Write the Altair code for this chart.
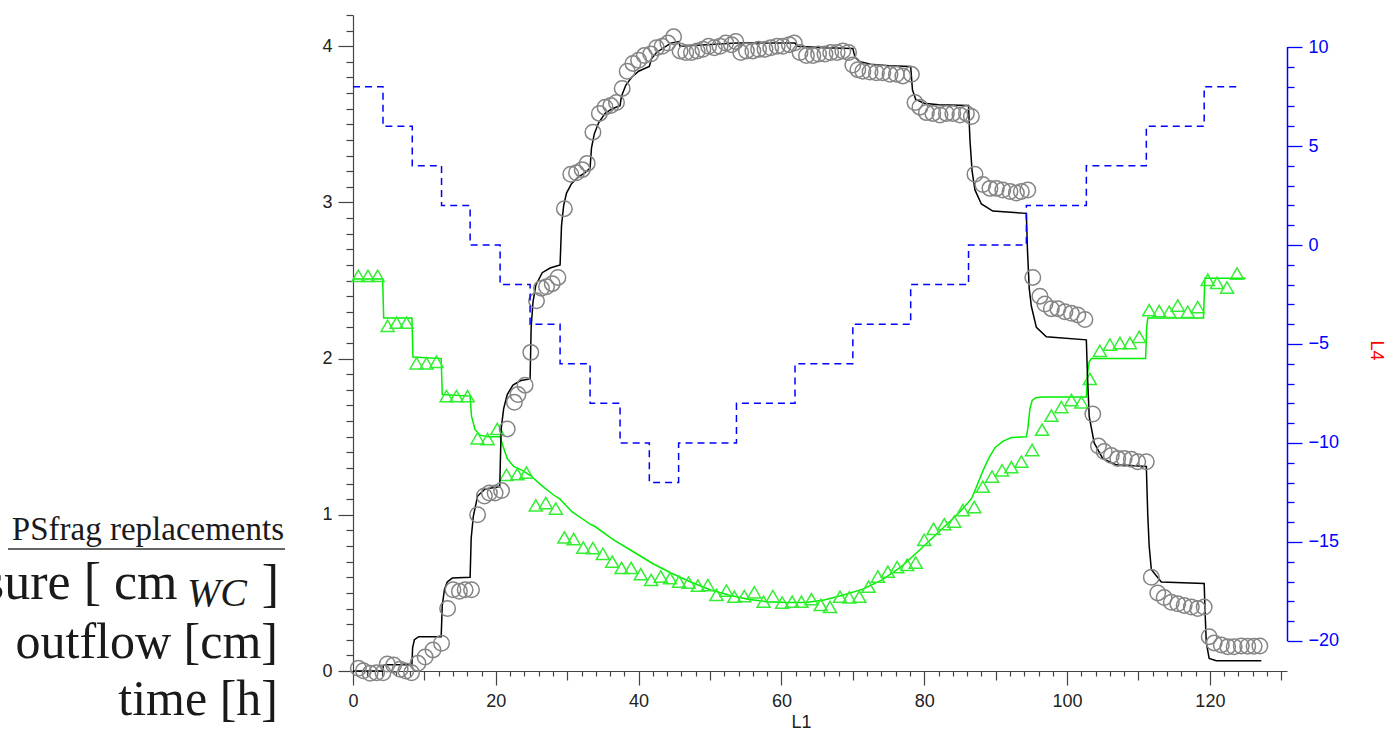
import altair as alt
import pandas as pd

# ---- measured pressure head [cm WC] (open circles) ----
p_time = [0.75, 1.45, 2.4, 3.3, 4.2, 4.8, 5.7, 6.6, 7.4, 8.2, 9.1, 10.1, 11.2, 12.4,
          13.25, 14.0, 14.9, 15.7, 16.6,
          17.45, 18.4, 19.1, 19.9, 20.8,
          21.6, 22.6, 23.1, 24.1,
          24.9, 25.7, 26.4, 27.1, 27.9, 28.7,
          29.6, 30.5, 31.3, 32.1, 32.8,
          33.6, 34.5, 35.3, 36.1, 36.9,
          37.7, 38.4, 39.2, 40.0, 40.8,
          41.7, 42.5, 43.3, 44.1, 44.9,
          45.8, 46.6, 47.4, 48.2, 49.0, 49.8, 50.6, 51.4, 52.2, 53.0, 53.6,
          54.3, 55.1, 56.0, 56.8, 57.7, 58.5, 59.4, 60.2, 61.1, 61.8,
          62.6, 63.5, 64.4, 65.2, 66.1, 66.9, 67.8, 68.6, 69.4,
          70.0, 70.7, 71.4, 72.4, 73.3, 74.2, 75.2, 76.1, 77.0, 78.2,
          78.7, 79.4, 80.3, 81.2, 82.2, 83.1, 84.0, 85.0, 85.9, 86.6,
          87.1, 88.2, 89.2, 90.1, 91.0, 92.0, 92.9, 93.6, 94.5,
          95.2, 96.2, 96.9, 97.8, 98.7, 99.7, 100.6, 101.5, 102.5,
          103.6, 104.4, 105.2, 106.2, 107.1, 108.0, 109.0, 109.9, 111.1,
          111.8, 112.7, 113.6, 114.6, 115.5, 116.4, 117.4, 118.3, 119.2,
          119.9, 120.6, 121.6, 122.5, 123.4, 124.4, 125.3, 126.2, 127.0]
p_meas = [0.017, 0.002, -0.015, -0.011, -0.011, 0.045, 0.038, 0.011, 0.0, -0.011, 0.049, 0.09, 0.135, 0.178,
          0.40, 0.52, 0.51, 0.52, 0.52,
          1.0, 1.12, 1.14, 1.14, 1.155,
          1.55, 1.72, 1.77, 1.83,
          2.04, 2.37, 2.45, 2.46, 2.48, 2.52,
          2.96, 3.18, 3.19, 3.21, 3.25,
          3.45, 3.57, 3.61, 3.62, 3.64,
          3.73, 3.84, 3.89, 3.91, 3.94,
          3.95, 3.99, 4.0, 4.02, 4.06,
          3.97, 3.96, 3.96, 3.97, 3.98, 4.0, 3.99, 4.0, 4.02, 4.01, 4.03,
          3.96, 3.97, 3.97, 3.98, 3.98, 3.99, 4.0, 4.0, 4.01, 4.02,
          3.96, 3.94, 3.94, 3.95, 3.95, 3.96, 3.96, 3.97, 3.96,
          3.88, 3.85, 3.84, 3.835, 3.83, 3.83, 3.82, 3.82, 3.81, 3.82,
          3.64, 3.61, 3.575, 3.57, 3.56, 3.57, 3.57, 3.56, 3.57, 3.55,
          3.18, 3.115, 3.09, 3.09, 3.08, 3.07, 3.06, 3.07, 3.08,
          2.52, 2.40, 2.35, 2.32, 2.32, 2.30, 2.29, 2.28, 2.25,
          1.645, 1.44, 1.405, 1.38, 1.36, 1.36, 1.355, 1.34, 1.34,
          0.60, 0.50, 0.47, 0.44, 0.43, 0.42, 0.41, 0.40, 0.41,
          0.22, 0.18, 0.167, 0.156, 0.155, 0.16, 0.158, 0.158, 0.16]

# ---- simulated pressure head (black line) ----
sim_time = [0, 4.15, 4.25, 4.6, 8.25, 8.35, 8.6, 9.2, 12.35, 12.5, 12.8, 13.2, 13.9, 16.4,
            16.55, 16.85, 17.45, 18.5, 20.55, 20.75, 21.1, 21.6, 22.4, 23.5, 24.8,
            24.95, 25.2, 25.6, 26.5, 27.6, 29.0, 29.2, 29.5, 29.9, 30.6, 31.5, 32.5, 33.2,
            33.4, 33.8, 34.4, 35.3, 36.3, 37.4, 37.6, 38.2, 39.0, 40.0, 41.5,
            41.8, 42.5, 43.5, 44.5, 45.6, 45.8, 49.5, 53.7, 61.9, 62.2, 66.0, 70.0,
            70.3, 71.0, 72.5, 75.0, 78.1, 78.35, 78.8, 80.0, 82.0, 86.2,
            86.4, 86.7, 87.1, 88.0, 89.6, 94.3,
            94.45, 94.7, 95.0, 95.7, 97.1, 102.7,
            102.85, 103.1, 103.8, 105.0, 106.9, 111.1,
            111.3, 111.5, 111.8, 113.2, 119.2,
            119.35, 119.5, 119.9, 120.9, 127.2]
sim_p = [0.0, 0.0, 0.035, 0.04, 0.04, 0.15, 0.2, 0.22, 0.22, 0.42, 0.52, 0.57, 0.595, 0.6,
         0.85, 0.99, 1.12, 1.165, 1.18, 1.55, 1.68, 1.77, 1.83, 1.86, 1.87,
         2.2, 2.36, 2.47, 2.55, 2.58, 2.6, 2.85, 2.98, 3.06, 3.12, 3.16, 3.19, 3.22,
         3.35, 3.44, 3.51, 3.57, 3.6, 3.62, 3.68, 3.75, 3.8, 3.84, 3.87,
         3.92, 3.96, 3.99, 4.02, 4.03, 4.0, 4.01, 4.02, 4.02, 4.0, 3.99, 3.985,
         3.93, 3.9, 3.885, 3.875, 3.87, 3.72, 3.66, 3.635, 3.625, 3.62,
         3.4, 3.2, 3.08, 2.99, 2.945, 2.93,
         2.7, 2.45, 2.335, 2.2, 2.14, 2.12,
         1.9, 1.63, 1.46, 1.36, 1.32, 1.31,
         1.0, 0.8, 0.65, 0.57, 0.56,
         0.35, 0.18, 0.08, 0.066, 0.066]

# ---- measured cumulative outflow [cm] (open triangles) ----
q_time = [0.75, 2.1, 3.45, 4.85, 6.1, 7.5, 8.9, 10.3, 11.7, 13.1, 14.5, 16.05,
          17.45, 18.85, 20.2, 21.5, 23.0, 24.3, 25.6, 27.0, 28.4,
          29.6, 30.9, 32.25, 33.6, 35.0, 36.3, 37.6, 38.95, 40.3, 41.75, 43.1, 44.4,
          45.65, 47.0, 48.3, 49.7, 50.9, 52.3, 53.4, 54.8, 56.2, 57.5, 58.8, 60.1,
          61.5, 62.8, 64.2, 65.5, 66.8, 68.2, 69.5, 70.9, 72.2, 73.5, 74.9, 76.2,
          77.6, 78.8, 80.0, 81.3, 82.8, 84.2, 85.4, 87.0, 88.2, 89.5, 90.9, 92.2,
          93.6, 95.1, 96.5, 97.8, 99.2, 100.6, 102.0, 103.2, 104.6, 106.0, 107.4,
          108.8, 110.1, 111.5, 112.9, 114.3, 115.5, 116.9, 118.3, 119.7, 121.0,
          122.4, 123.8]
q_meas = [2.53, 2.53, 2.53, 2.21, 2.23, 2.23, 1.97, 1.97, 1.98, 1.76, 1.76, 1.76,
          1.49, 1.485, 1.55, 1.256, 1.26, 1.27, 1.06, 1.075, 1.04,
          0.855, 0.845, 0.79, 0.787, 0.75, 0.70, 0.66, 0.66, 0.62, 0.583, 0.605, 0.594,
          0.572, 0.566, 0.547, 0.55, 0.487, 0.515, 0.476, 0.48, 0.504, 0.444, 0.48, 0.438,
          0.444, 0.444, 0.46, 0.423, 0.41, 0.476, 0.472, 0.476, 0.54, 0.605, 0.636, 0.665,
          0.68, 0.694, 0.84, 0.91, 0.94, 0.957, 1.03, 1.05, 1.18, 1.245, 1.285, 1.305,
          1.34, 1.415, 1.545, 1.635, 1.69, 1.735, 1.72, 1.87, 2.05, 2.09, 2.1,
          2.1, 2.14, 2.31, 2.305, 2.30, 2.34, 2.30, 2.33, 2.505, 2.485,
          2.455, 2.545]

# ---- simulated cumulative outflow (green line) ----
qs_time = [0, 4.15, 4.3, 8.25, 8.4, 12.35, 12.5, 16.4, 16.6, 17.1, 17.8, 18.9, 20.6,
           21.0, 21.6, 22.5, 23.7, 24.9, 26.35, 28.0, 29.0, 29.3, 30.65, 32.25, 33.2,
           33.9, 36.5, 39.2, 41.9, 44.6, 47.3, 50.0, 52.6, 55.3, 58.0, 60.7, 63.4,
           66.0, 68.7, 71.4, 74.1, 76.8, 79.4, 82.1, 84.8, 86.2, 86.7, 87.5, 88.2,
           89.0, 89.9, 91.0, 92.2, 94.3, 94.5, 94.8, 95.1, 95.6, 96.5, 102.7,
           102.85, 103.1, 103.4, 111.0, 111.15, 111.3, 119.1, 119.3, 125.0]
qs_val = [2.51, 2.51, 2.26, 2.26, 2.01, 2.0, 1.77, 1.76, 1.63, 1.545, 1.51, 1.5, 1.5,
          1.44, 1.36, 1.31, 1.285, 1.25, 1.19, 1.13, 1.1, 1.085, 1.02, 0.97, 0.94,
          0.925, 0.84, 0.765, 0.69, 0.626, 0.57, 0.52, 0.487, 0.46, 0.444, 0.438, 0.438,
          0.455, 0.487, 0.524, 0.583, 0.668, 0.776, 0.893, 1.01, 1.08, 1.11, 1.2, 1.28,
          1.36, 1.43, 1.47, 1.495, 1.5, 1.55, 1.68, 1.73, 1.75, 1.755, 1.755,
          1.9, 1.98, 2.0, 2.0, 2.2, 2.26, 2.26, 2.515, 2.515]

# ---- applied boundary pressure (blue dashed steps, right axis) ----
bc_time = [0, 4.2, 8.3, 12.4, 16.4, 20.6, 24.8, 29.0, 33.2, 37.4, 41.5, 45.6,
           53.7, 61.9, 70.0, 78.1, 86.2, 94.3, 102.7, 111.1, 119.2, 124.1]
bc_val = [8, 6, 4, 2, 0, -2, -4, -6, -8, -10, -12, -10,
          -8, -6, -4, -2, 0, 2, 4, 6, 8, 8]

# axis tick positions and right-axis extent
x_ticks = list(range(0, 131, 2))
yl_ticks = [round(i * 0.1, 1) for i in range(43)]
yr_ticks = list(range(-20, 11))
yr_extent = [-20, 10]

# side labels (psfrag leftovers)
side_head = ["PSfrag replacements"]
side_lines = ["pressure [", "cm", "WC", "]", "outflow [cm]", "time [h]"]

W, H = 934, 656
AX = "#444444"
SANS = "Liberation Sans"
SERIF = "Liberation Serif"

x_scale = alt.Scale(domain=[0, 130.8], nice=False, zero=False)
yl_scale = alt.Scale(domain=[0, 4.2], nice=False, zero=False)
yr_scale = alt.Scale(domain=[-21.52, 11.62], nice=False, zero=False)

x_axis = alt.Axis(
    values=x_ticks, title="L1", labelExpr="datum.value % 20 === 0 ? datum.label : ''",
    tickSize={"condition": [{"test": "datum.value % 20 === 0", "value": 14},
                            {"test": "datum.value % 10 === 0", "value": 9}], "value": 5},
    labelPadding=7, labelFont=SANS, labelFontSize=18, labelColor="#222222",
    labelOverlap=False, labelFlush=False, grid=False,
    domainColor=AX, tickColor=AX, domainWidth=1.2, tickWidth=1.2,
    titleFont=SANS, titleFontSize=18, titleFontWeight="normal", titleColor="#222222",
    titleX=448, titleY=56, titleAlign="center", titleBaseline="alphabetic",
)
yl_axis = alt.Axis(
    values=yl_ticks, title=None, orient="left", format=".0f",
    labelExpr="abs(datum.value - round(datum.value)) < 1e-6 ? datum.label : ''",
    tickSize={"condition": {"test": "abs(datum.value - round(datum.value)) < 1e-6", "value": 15},
              "value": 7},
    labelPadding=6, labelFont=SANS, labelFontSize=18, labelColor="#222222",
    labelOverlap=False, labelFlush=False, grid=False,
    domainColor=AX, tickColor=AX, domainWidth=1.2, tickWidth=1.2,
)
yr_axis = alt.Axis(
    values=yr_ticks, title="L4", orient="right", domain=False,
    labelExpr="datum.value % 5 === 0 ? datum.label : ''",
    tickSize={"condition": {"test": "datum.value % 5 === 0", "value": 15}, "value": 7},
    labelPadding=6, labelFont=SANS, labelFontSize=18, labelColor="#0000ff",
    labelOverlap=False, labelFlush=False, grid=False,
    tickColor="#0000ff", tickWidth=1.3,
    titleFont=SANS, titleFontSize=18, titleFontWeight="normal", titleColor="#ff0000",
    titleAngle=90, titleX=88, titleY=335, titleAlign="center", titleBaseline="middle",
)

X = lambda f: alt.X(f, type="quantitative", scale=x_scale, axis=x_axis)
YL = lambda f: alt.Y(f, type="quantitative", scale=yl_scale, axis=yl_axis)
YR = lambda f: alt.Y(f, type="quantitative", scale=yr_scale, axis=yr_axis)

meas_p = pd.DataFrame({"t": p_time, "v": p_meas})
model_p = pd.DataFrame({"t": sim_time, "v": sim_p})
meas_q = pd.DataFrame({"t": q_time, "v": q_meas})
model_q = pd.DataFrame({"t": qs_time, "v": qs_val})
bc = pd.DataFrame({"t": bc_time, "v": bc_val})
extent = pd.DataFrame({"lo": [yr_extent[0]], "hi": [yr_extent[1]]})

green_line = alt.Chart(model_q).mark_line(color="#00ee00", strokeWidth=1.5).encode(x=X("t"), y=YL("v"))
black_line = alt.Chart(model_p).mark_line(color="#000000", strokeWidth=1.5).encode(x=X("t"), y=YL("v"))
circles = alt.Chart(meas_p).mark_point(shape="circle", filled=False, size=240, color="#858585",
                                       strokeWidth=1.5, opacity=1).encode(x=X("t"), y=YL("v"))
triangles = alt.Chart(meas_q).mark_point(shape="triangle-up", filled=False, size=170, color="#33ee33",
                                         strokeWidth=1.5, opacity=1).encode(x=X("t"), y=YL("v"))
left = alt.layer(green_line, triangles, black_line, circles)

steps = alt.Chart(bc).mark_line(color="#0000ff", strokeWidth=1.5, strokeDash=[7, 5],
                                interpolate="step-after").encode(x=X("t"), y=YR("v"))
r_domain = alt.Chart(extent).mark_rule(color="#0000ff", strokeWidth=1.5).encode(
    x=alt.value(W + 0.5), y=YR("lo"), y2="hi")
right = alt.layer(steps, r_domain)

plot = alt.layer(left, right).resolve_scale(y="independent")

# psfrag replacement block on the left
def side_text(txt, x, y, size, style="normal", align="right"):
    return alt.Chart(pd.DataFrame({"s": [txt]})).mark_text(
        font=SERIF, fontSize=size, fontStyle=style, align=align, baseline="alphabetic",
        color="#1a1a1a").encode(x=alt.value(x), y=alt.value(y), text="s:N")

head = side_text(side_head[0], -69, 525, 33)
rule_df = pd.DataFrame({"k": [0]})
underline = alt.Chart(rule_df).mark_rule(color="#333333", strokeWidth=1.5).encode(
    x=alt.value(-345), x2=alt.value(-68), y=alt.value(534))
l1 = side_text(side_lines[0], -252, 584, 52)
l1_cm = side_text(side_lines[1], -239, 584, 52, align="left")
l1_sub = side_text(side_lines[2], -166, 591, 40, style="italic", align="left")
l1_close = side_text(side_lines[3], -74, 586, 52)
l2 = side_text(side_lines[4], -75, 643, 50)
l3 = side_text(side_lines[5], -75, 700, 50)

chart = alt.layer(plot, head, underline, l1, l1_cm, l1_sub, l1_close, l2, l3).properties(
    width=W, height=H,
    padding={"left": 353, "top": 15, "right": 107, "bottom": 60},
    autosize=alt.AutoSizeParams(type="none"),
    background="white",
).configure_view(stroke=None)

chart.save("out.html", embed_options={"renderer": "svg", "actions": False})
